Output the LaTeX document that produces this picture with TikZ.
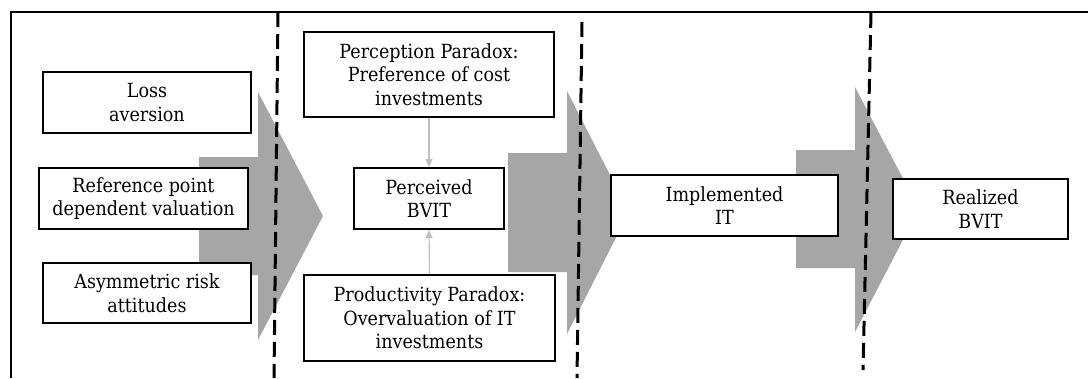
\documentclass[tikz,border=0pt]{standalone}
\usepackage{fontspec}
\setmainfont{DejaVu Serif Condensed}
\usetikzlibrary{arrows.meta}
\definecolor{arrowgray}{HTML}{A6A6A6}
\definecolor{linkgray}{HTML}{BFBFBF}
\tikzset{
  box/.style={draw=black, line width=2pt, fill=white, align=center,
    font=\fontsize{19.5}{23.5}\selectfont, inner sep=0pt},
  bigarrow/.style={fill=arrowgray, draw=none},
  divider/.style={draw=black, line width=3pt, dash pattern=on 15pt off 7pt},
  link/.style={draw=linkgray, line width=1.2pt, -{Triangle[length=8pt,width=7pt]}}
}
\begin{document}
\begin{tikzpicture}[x=1pt,y=-1pt]
\useasboundingbox (0,0) rectangle (1088,378);
% frame
\draw[line width=2pt] (11,378) -- (11,12) -- (1088,12);
% big gray arrows
\fill[bigarrow] (199,157) -- (258,157) -- (258,92) -- (323,216) -- (258,340) -- (258,275) -- (199,275) -- cycle;
\fill[bigarrow] (508,153) -- (567,153) -- (567,91) -- (629,212) -- (567,334) -- (567,272) -- (508,272) -- cycle;
\fill[bigarrow] (796,150) -- (855,150) -- (855,87) -- (919,209) -- (855,332) -- (855,268) -- (796,268) -- cycle;
% dashed dividers
\coordinate (d1a) at (278,12); \coordinate (d1b) at (274,378);
\coordinate (d2a) at (582,22); \coordinate (d2b) at (577,378);
\coordinate (d3a) at (871,13); \coordinate (d3b) at (863,370);
\draw[divider] (d1a) -- (d1b);
\draw[divider] (d2a) -- (d2b);
\draw[divider] (d3a) -- (d3b);
% boxes
\node[box, minimum width=208pt, minimum height=61pt] (loss) at (147,102.5) {Loss\\aversion};
\node[box, minimum width=209pt, minimum height=61pt] (ref) at (143.5,198.5) {Reference point\\dependent valuation};
\node[box, minimum width=208pt, minimum height=60pt] (asym) at (147,293) {Asymmetric risk\\attitudes};
\node[box, minimum width=250pt, minimum height=85pt] (perc) at (429,74.5) {Perception Paradox:\\Preference of cost\\investments};
\node[box, minimum width=150pt, minimum height=61pt] (pbvit) at (429,198.5) {Perceived\\BVIT};
\node[box, minimum width=251pt, minimum height=86pt] (prod) at (429.5,318) {Productivity Paradox:\\Overvaluation of IT\\investments};
\node[box, minimum width=227pt, minimum height=61pt] (impl) at (724.5,205.5) {Implemented\\IT};
\node[box, minimum width=175pt, minimum height=60pt] (real) at (980.5,209) {Realized\\BVIT};
% links
\draw[link] (perc.south) -- (pbvit.north);
\draw[link] (prod.north) -- (pbvit.south);
\end{tikzpicture}
\end{document}
